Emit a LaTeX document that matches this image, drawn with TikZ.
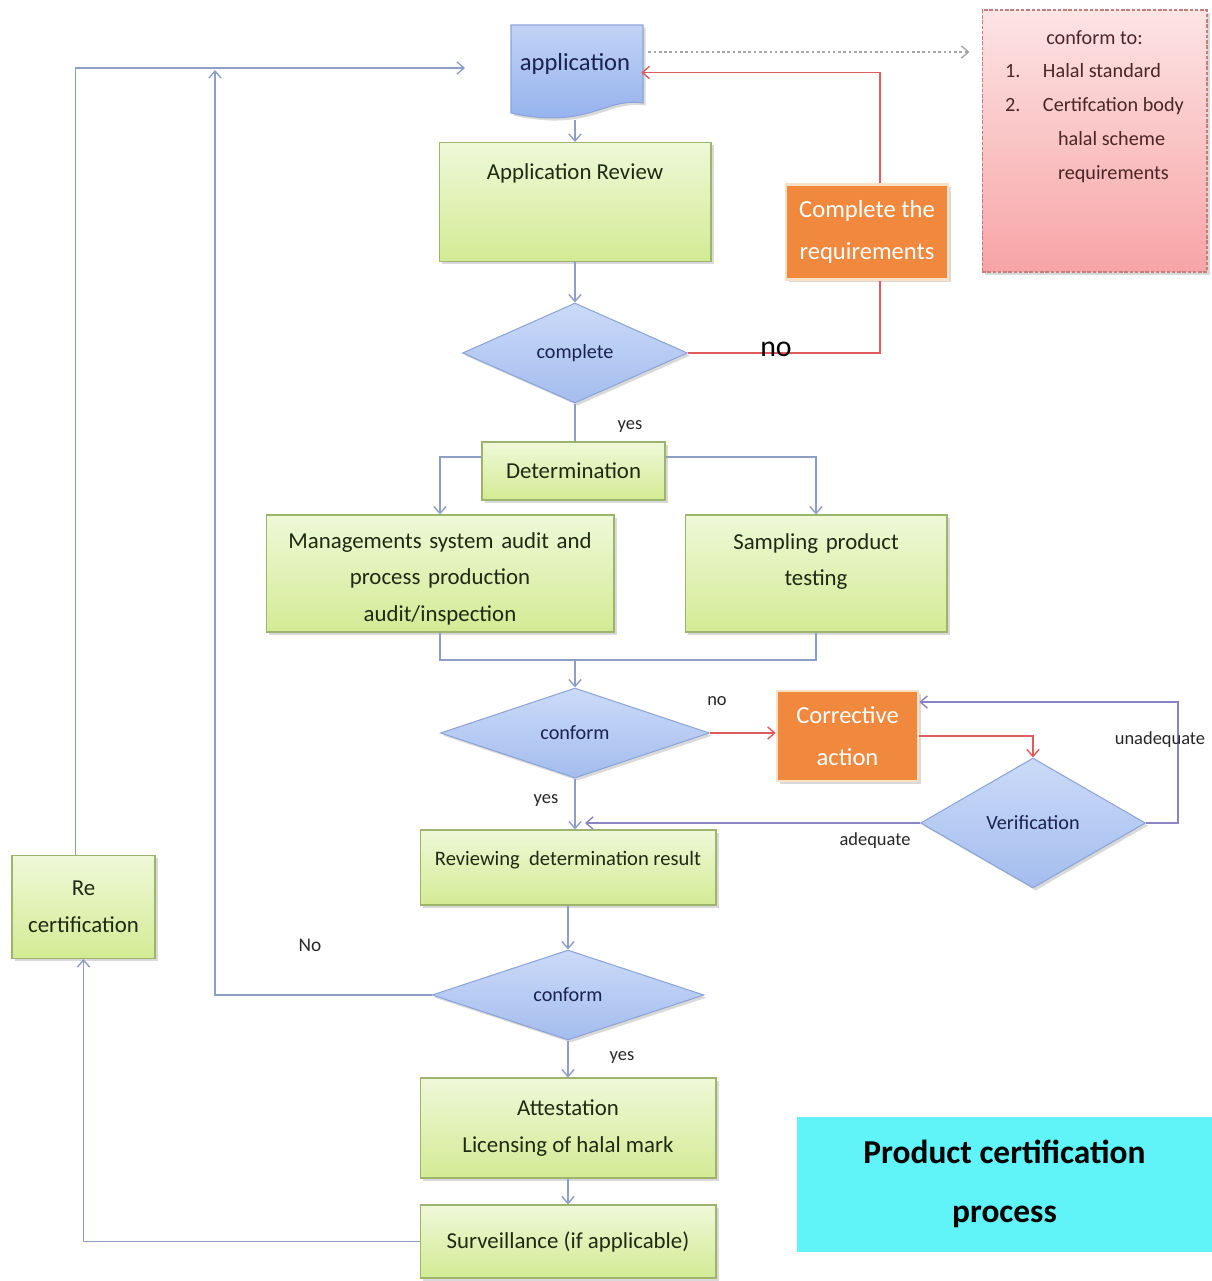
\documentclass[tikz,border=0pt]{standalone}
\usepackage{fontspec}
\setmainfont{Carlito}
\usepackage{tikz}
\usetikzlibrary{shapes.geometric}
\usetikzlibrary{arrows.meta}
\usetikzlibrary{shadows}

\definecolor{greentop}{HTML}{EFF8D8}
\definecolor{greenbot}{HTML}{D3EB94}
\definecolor{greenedge}{HTML}{9DB46C}
\definecolor{boxtext}{HTML}{1E2A12}
\definecolor{bluetop}{HTML}{CBDAF8}
\definecolor{bluebot}{HTML}{A4BDEE}
\definecolor{blueedge}{HTML}{8CA5D8}
\definecolor{bluetext}{HTML}{1A2250}
\definecolor{doctop}{HTML}{C2D2F6}
\definecolor{docbot}{HTML}{90AFEC}
\definecolor{orangefill}{HTML}{F0883E}
\definecolor{orangeedge}{HTML}{FBE0C4}
\definecolor{pinktop}{HTML}{FDE4E4}
\definecolor{pinkbot}{HTML}{F7A4A6}
\definecolor{pinkedge}{HTML}{C47C7C}
\definecolor{pinktext}{HTML}{4A2626}
\definecolor{titlecyan}{HTML}{60F3F7}
\definecolor{lineblue}{HTML}{8E9EC6}
\definecolor{linered}{HTML}{E05C5C}
\definecolor{linepurple}{HTML}{8A84C4}

\newcommand{\boxfont}{\fontsize{13}{21}\selectfont}
\newcommand{\diafont}{\fontsize{11.5}{14}\selectfont}
\newcommand{\orfont}{\fontsize{14}{24}\selectfont}
\newcommand{\lblfont}{\fontsize{10.5}{13}\selectfont}

\begin{document}
\begin{tikzpicture}[x=0.02cm, y=-0.02cm,
    every node/.style={inner sep=0pt},
    shade/.style={drop shadow={shadow xshift=1.5pt, shadow yshift=-1.5pt, opacity=0.3}},
    greenbox/.style={draw=greenedge, line width=0.6pt, top color=greentop, bottom color=greenbot,
        align=center, font=\boxfont, text=boxtext, shade},
    bluediamond/.style={diamond, draw=blueedge, line width=0.6pt, top color=bluetop, bottom color=bluebot,
        font=\diafont, text=bluetext, shade},
    orangebox/.style={draw=orangeedge, line width=1.5pt, fill=orangefill, text=white, align=center,
        font=\orfont, shade},
    lbl/.style={font=\lblfont, text=black!85},
    conn/.style={draw=lineblue, line width=0.8pt},
    arr/.style={conn, -{Straight Barb[length=4pt,width=7pt]}},
    redconn/.style={draw=linered, line width=0.8pt},
    redarr/.style={redconn, -{Straight Barb[length=4pt,width=7pt]}},
    purarr/.style={draw=linepurple, line width=0.8pt, -{Straight Barb[length=4pt,width=7pt]}},
    dotarr/.style={draw=black!35, line width=0.8pt, dash pattern=on 1.5pt off 1.5pt,
        -{Straight Barb[length=4pt,width=7pt]}}
]
    \useasboundingbox (0,0) rectangle (1212,1281);

    % application (document shape)
    \draw[draw=blueedge, line width=0.6pt, top color=doctop, bottom color=docbot, shade]
        (511,25) -- (643,25) -- (643,103) .. controls (605,97) and (588,130) .. (511,113) -- cycle;
    \node[minimum width=2.64cm, text height=0.9cm, text depth=1.0cm, font=\fontsize{14}{17}\selectfont, text=bluetext]
        (app) at (575,72.5) {application};

    % boxes
    \node[greenbox, minimum width=5.44cm, text height=0.74cm, text depth=1.64cm] (review) at (575,202) {Application Review};
    \node[orangebox, minimum width=3.24cm, minimum height=1.9cm] (req) at (867,232) {Complete the\\requirements};
    \node[draw=pinkedge, line width=0.6pt, dash pattern=on 2pt off 1pt, top color=pinktop, bottom color=pinkbot,
        minimum width=4.5cm, text height=0.68cm, text depth=4.56cm, text=pinktext, font=\fontsize{11.5}{19.3}\selectfont, shade]
        (std) at (1094.5,141) {%
        \begin{tabular}[t]{@{}r@{\hskip 0.45cm}l@{}}
            \multicolumn{2}{c}{conform to:}\\
            1. & Halal standard\\
            2. & Certifcation body\\
               & \hskip 0.3cm halal scheme\\
               & \hskip 0.3cm requirements
        \end{tabular}};
    \node[bluediamond, minimum width=4.5cm, minimum height=2cm] (complete) at (575,353) {complete};
    \node[greenbox, minimum width=3.66cm, minimum height=1.16cm] (determ) at (573.5,471) {Determination};
    \node[greenbox, text width=6.96cm, text height=0.66cm, text depth=1.68cm] (mgmt) at (440,573.5)
        {Managements system audit and\\process production\\audit/inspection};
    \node[greenbox, text width=5.24cm, text height=0.68cm, text depth=1.66cm] (sampling) at (816,573.5)
        {Sampling product\\testing};
    \node[bluediamond, minimum width=5.38cm, minimum height=1.8cm] (conform1) at (575,733) {conform};
    \node[orangebox, minimum width=2.82cm, minimum height=1.8cm] (corrective) at (847.5,736) {Corrective\\action};
    \node[bluediamond, minimum width=4.5cm, minimum height=2.6cm] (verify) at (1033,823) {Verification};
    \node[greenbox, minimum width=5.92cm, text height=0.7cm, text depth=0.8cm, font=\fontsize{11.7}{18}\selectfont]
        (reviewing) at (568,867.5) {Reviewing\ \ determination result};
    \node[bluediamond, minimum width=5.44cm, minimum height=1.8cm] (conform2) at (568,995) {conform};
    \node[greenbox, minimum width=5.92cm, minimum height=2cm] (attest) at (568,1128)
        {Attestation\\Licensing of halal mark};
    \node[greenbox, minimum width=5.92cm, minimum height=1.46cm] (surv) at (568,1241.5) {Surveillance (if applicable)};
    \node[greenbox, minimum width=2.86cm, minimum height=2.06cm] (recert) at (83.5,907) {Re\\certification};
    \node[fill=titlecyan, minimum width=8.3cm, minimum height=2.7cm, align=center,
        font=\fontsize{19}{34}\selectfont\bfseries] (title) at (1004.5,1184) {Product certification\\process};

    % free ends
    \coordinate (appin) at (465,68);
    \coordinate (reback) at (215,70);
    \coordinate (join) at (575,660);
    \coordinate (adqend) at (585,823);

    % connectors
    \draw[arr] (app.south) -- (review.north);
    \draw[arr] (review.south) -- (complete.north);
    \draw[dotarr, shorten <=0.14cm, shorten >=0.24cm] ([yshift=0.41cm]app.east) -- ([yshift=0.41cm]app.east -| std.west);
    \draw[redconn] (complete.east) -| ([xshift=0.26cm]req.south);
    \draw[redarr] ([xshift=0.26cm]req.north) |- (app.east);
    \draw[conn] (complete.south) -- (complete.south |- determ.north);
    \draw[arr] ([yshift=0.28cm]determ.west) -| (mgmt.north);
    \draw[arr] ([yshift=0.28cm]determ.east) -| (sampling.north);
    \draw[conn] (mgmt.south) |- (join) -| (sampling.south);
    \draw[arr] (join) -- (conform1.north);
    \draw[redarr] (conform1.east) -- (conform1.east -| corrective.west);
    \draw[redarr] (corrective.east) -| (verify.north);
    \draw[purarr] (verify.east) -- ++(32,0) |- ([yshift=0.68cm]corrective.east);
    \draw[purarr] (verify.west) -- (adqend);
    \draw[arr] (conform1.south) -- (conform1.south |- reviewing.north);
    \draw[arr] (reviewing.south) -- (conform2.north);
    \draw[arr] (conform2.west) -| (reback);
    \draw[arr] (conform2.south) -- (attest.north);
    \draw[arr] (attest.south) -- (surv.north);
    \draw[arr] (surv.west) -| (recert.south);
    \draw[arr] ([xshift=-0.16cm]recert.north) |- (appin);

    % labels
    \node[font=\fontsize{17}{20}\selectfont] (no1) at (776,349) {no};
    \node[lbl] (yes1) at (630,427) {yes};
    \node[lbl] (no2) at (717,701) {no};
    \node[lbl] (yes2) at (546,801) {yes};
    \node[lbl] (adeq) at (875,841) {adequate};
    \node[lbl] (unadeq) at (1160,740) {unadequate};
    \node[lbl, font=\fontsize{11}{13}\selectfont] (no3) at (310,945) {No};
    \node[lbl] (yes3) at (622,1057) {yes};
\end{tikzpicture}
\end{document}
